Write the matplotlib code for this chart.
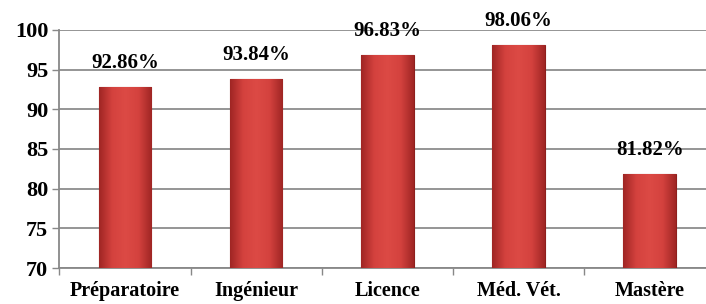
import numpy as np
import matplotlib.pyplot as plt
from matplotlib.colors import LinearSegmentedColormap

# taux de reussite par filiere
categories = ['Préparatoire', 'Ingénieur', 'Licence', 'Méd. Vét.', 'Mastère']
values = [92.86, 93.84, 96.83, 98.06, 81.82]
labels = ['92.86%', '93.84%', '96.83%', '98.06%', '81.82%']

plt.rcParams['font.family'] = ['Liberation Serif', 'DejaVu Serif']

fig = plt.figure(figsize=(7.06, 3.04), dpi=100)
ax = fig.add_axes([0.0841, 0.1184, 0.929, 0.783])

x = np.arange(len(categories))
bars = ax.bar(x, values, width=0.4, color='#cf3e3c', edgecolor='#8e1f1d',
              linewidth=0.8, zorder=3)

# degrade horizontal pour imiter le biseau
cmap = LinearSegmentedColormap.from_list('bev', ['#a02624', '#d4423e', '#dc4a45', '#d4423e', '#a02624'])
grad = np.linspace(0, 1, 100).reshape(1, -1)
for b in bars:
    x0, w, h = b.get_x(), b.get_width(), b.get_height()
    im = ax.imshow(grad, cmap=cmap, aspect='auto', extent=(x0, x0 + w, 70, h), zorder=3.5)
    im.set_clip_path(b)

for b, lab in zip(bars, labels):
    ax.annotate(lab, (b.get_x() + b.get_width() / 2, b.get_height()),
                xytext=(0, 10), textcoords='offset points', ha='center', va='bottom',
                fontsize=15, fontweight='bold', zorder=5)

ax.set_ylim(70, 100)
ax.set_xlim(-0.5, len(categories) - 0.5)
ax.set_yticks(range(70, 101, 5))
ax.set_xticks(x)
ax.set_xticklabels(categories, fontsize=14.5, fontweight='bold')
ax.set_xticks(np.arange(-0.5, len(categories), 1), minor=True)
ax.tick_params(axis='x', which='major', length=0, pad=9)
ax.tick_params(axis='x', which='minor', length=5, color='#888888', width=1)
ax.tick_params(axis='y', length=5, color='#888888', width=1, labelsize=16, pad=3)
for t in ax.get_yticklabels():
    t.set_fontweight('bold')

ax.yaxis.grid(True, color='#8c8c8c', linewidth=1.3, zorder=0)
ax.set_axisbelow(True)
for s in ['top', 'right']:
    ax.spines[s].set_visible(False)
ax.spines['left'].set_color('#888888')
ax.spines['bottom'].set_color('#888888')
ax.spines['left'].set_linewidth(1.3)
ax.spines['bottom'].set_linewidth(1.3)

fig.savefig('out.png', dpi=100)
